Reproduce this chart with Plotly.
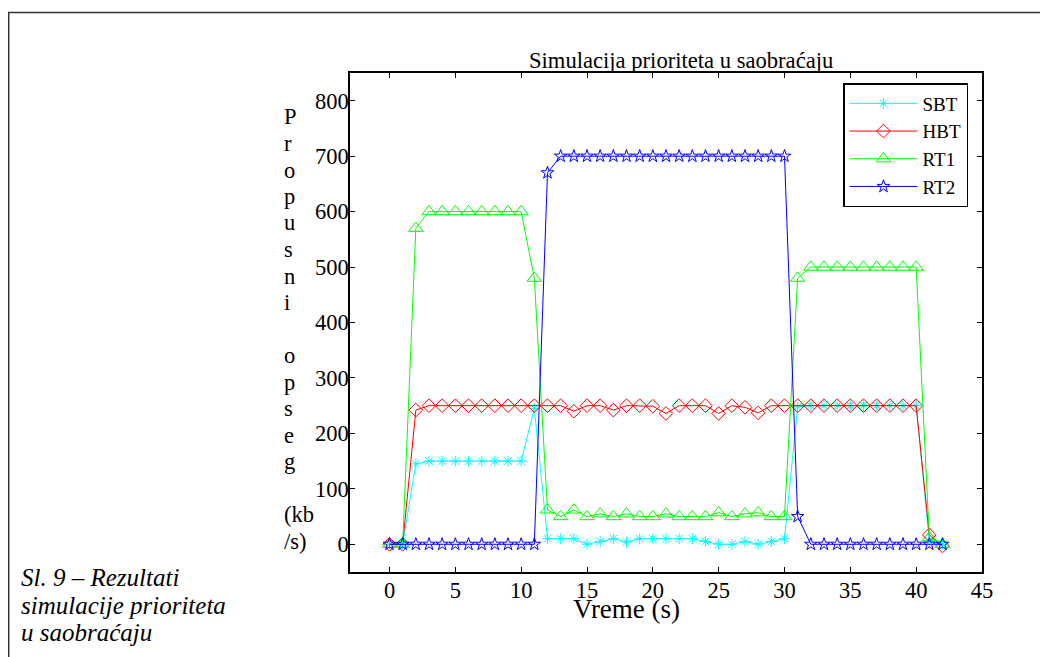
import plotly.graph_objects as go

# ---- data ----
time_s = list(range(43))
sbt = [0, 0, 145, 150, 150, 150, 150, 150, 150, 150, 150, 245,
       10, 10, 10, 0, 5, 10, 4, 10, 10, 10, 10, 10, 5, 0, 0, 5, 0, 5, 10,
       248, 250, 250, 250, 250, 250, 250, 250, 250, 250, 5, 0]
hbt = [0, 0, 242, 250, 250, 250, 250, 250, 250, 250, 250, 250, 250, 250,
       240, 250, 250, 242, 250, 250, 249, 236, 250, 250, 250, 236, 250, 247, 237, 250, 250,
       250, 250, 250, 250, 250, 250, 250, 250, 250, 250, 17, -3]
rt1 = [0, 0, 570, 600, 600, 600, 600, 600, 600, 600, 600, 480,
       62, 50, 62, 50, 55, 50, 55, 50, 50, 55, 50, 50, 50, 57, 50, 55, 57, 50, 50,
       480, 500, 500, 500, 500, 500, 500, 500, 500, 500, 12, 0]
rt2 = [0] * 12 + [670] + [700] * 18 + [50] + [0] * 11

series_names = ["SBT", "HBT", "RT1", "RT2"]
x_ticks = [0, 5, 10, 15, 20, 25, 30, 35, 40, 45]
y_ticks = [0, 100, 200, 300, 400, 500, 600, 700, 800]

title_text = "Simulacija prioriteta u saobraćaju"
xlabel_text = "Vreme (s)"
ylabel_lines = ["P", "r", "o", "p", "u", "s", "n", "i", "", "o", "p", "s", "e", "g", "", "(kb", "/s)"]
caption_lines = ["Sl. 9 – Rezultati", "simulacije prioriteta", "u saobraćaju"]

FONT = "Liberation Serif"

styles = [
    dict(color="#00FFFF", symbol="asterisk-open", size=9),
    dict(color="#FF0000", symbol="diamond-open", size=10.5),
    dict(color="#00FF00", symbol="triangle-up-open", size=12.5),
    dict(color="#0000FF", symbol="star-open", size=9.5),
]

fig = go.Figure()
for name, vals, st in zip(series_names, [sbt, hbt, rt1, rt2], styles):
    fig.add_trace(go.Scatter(
        x=time_s, y=vals, name=name, mode="lines+markers",
        line=dict(color=st["color"], width=1),
        marker=dict(symbol=st["symbol"], size=st["size"], color=st["color"],
                    line=dict(color=st["color"], width=1)),
    ))

OFF = 8  # page body margin
W, H = 1040, 649
L, R, T, B = 342, 66, 65, 85
pw, ph = W - L - R, H - T - B


def px(xp):
    return (xp - OFF - L) / pw


def py(yp):
    return (H - B - (yp - OFF)) / ph


axis_common = dict(
    showgrid=False, zeroline=False, showline=True, linecolor="black", linewidth=1.5,
    mirror="ticks", ticks="inside", ticklen=5, tickwidth=1, tickcolor="black",
    tickfont=dict(family=FONT, size=22.5, color="black"),
)

fig.update_layout(
    width=W, height=H,
    margin=dict(l=L, r=R, t=T, b=B, pad=0),
    paper_bgcolor="white", plot_bgcolor="white",
    font=dict(family=FONT, size=21, color="black"),
    showlegend=True,
    legend=dict(
        x=px(968), y=py(83), xanchor="right", yanchor="top",
        bgcolor="white", bordercolor="black", borderwidth=1.5,
        font=dict(family=FONT, size=19, color="black"),
        itemwidth=68, tracegroupgap=0,
    ),
    xaxis=dict(range=[-3, 45], tickvals=x_ticks, ticklabelstandoff=-3, **axis_common),
    yaxis=dict(range=[-50, 850], tickvals=y_ticks, ticklabelstandoff=-5, **axis_common),
)

fig.add_annotation(text=title_text, xref="paper", yref="paper", x=px(681), y=py(60),
                   xanchor="center", yanchor="middle", showarrow=False,
                   font=dict(family=FONT, size=22.6, color="black"))
fig.add_annotation(text=xlabel_text, xref="paper", yref="paper", x=px(626), y=py(609),
                   xanchor="center", yanchor="middle", showarrow=False,
                   font=dict(family=FONT, size=27, color="black"))

# vertical stacked y-axis label (one letter group per line)
y0_line, dy_line = 117, 26.5
for i, s in enumerate(ylabel_lines):
    if not s:
        continue
    fig.add_annotation(text=s, xref="paper", yref="paper",
                       x=px(282), y=py(y0_line + i * dy_line),
                       xanchor="left", yanchor="middle", showarrow=False,
                       font=dict(family=FONT, size=22.5, color="black"))

# figure caption
cap_y = [577, 605, 632]
for s, yy in zip(caption_lines, cap_y):
    fig.add_annotation(text="<i>%s</i>" % s, xref="paper", yref="paper",
                       x=px(19), y=py(yy), xanchor="left", yanchor="middle",
                       showarrow=False, font=dict(family=FONT, size=25, color="black"))

# outer document frame
fig.add_shape(type="rect", xref="paper", yref="paper",
              x0=px(8.7), x1=px(1100), y0=py(720), y1=py(12.5),
              line=dict(color="#333333", width=1.5), fillcolor="rgba(0,0,0,0)", layer="below")

fig.write_html("out.html")
